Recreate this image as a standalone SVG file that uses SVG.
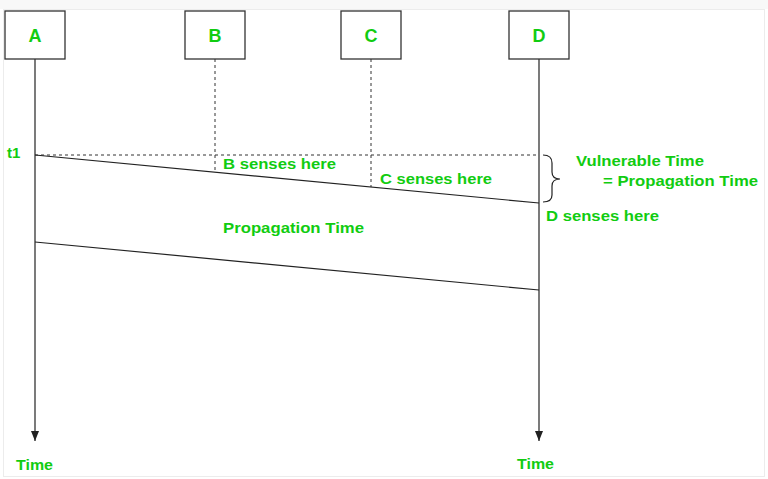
<svg xmlns="http://www.w3.org/2000/svg" width="768" height="479" viewBox="0 0 768 479">
<defs>
<style>
.box{fill:#fff;stroke:#333;stroke-width:1.3}
.lbl{font-family:"Liberation Sans",Arial,sans-serif;font-weight:bold;fill:#11cc11}
.big{font-size:18px}
.t{font-size:15px}
.ln{stroke:#222;stroke-width:1.2;fill:none}
.dash{stroke:#333;stroke-width:1;stroke-dasharray:3,3;fill:none}
</style>
<marker id="arr" markerWidth="10" markerHeight="8" refX="10" refY="4" orient="auto" markerUnits="userSpaceOnUse" viewBox="0 0 10 8">
<path d="M0,0 L10,4 L0,8 Z" fill="#222"/>
</marker>
</defs>
<rect x="0" y="0" width="768" height="479" fill="#fff"/>
<rect x="0" y="0" width="768" height="9" fill="#f8f8f8"/>
<rect x="3.5" y="9.5" width="761" height="467" fill="none" stroke="#ececec" stroke-width="1"/>
<g id="connectors">
<line class="ln" x1="35" y1="59" x2="35" y2="441" marker-end="url(#arr)"/>
<line class="ln" x1="539" y1="59" x2="539" y2="441" marker-end="url(#arr)"/>
<line class="dash" x1="215" y1="59" x2="215" y2="172"/>
<line class="dash" x1="371" y1="59" x2="371" y2="187"/>
<line class="dash" x1="35" y1="155" x2="539" y2="155"/>
<line class="ln" x1="35" y1="155" x2="539" y2="203"/>
<line class="ln" x1="35" y1="242" x2="539" y2="290"/>
<path class="ln" d="M543,155 Q552,155 552,163 L552,172 Q552,179 560,179 Q552,179 552,186 L552,195 Q552,202 543,202"/>
</g>
<g id="node-A"><rect class="box" x="5" y="11" width="60" height="48"/><text class="lbl big" x="35" y="42" text-anchor="middle">A</text></g>
<g id="node-B"><rect class="box" x="185" y="11" width="60" height="48"/><text class="lbl big" x="215" y="42" text-anchor="middle">B</text></g>
<g id="node-C"><rect class="box" x="341" y="11" width="60" height="48"/><text class="lbl big" x="371" y="42" text-anchor="middle">C</text></g>
<g id="node-D"><rect class="box" x="509" y="11" width="60" height="48"/><text class="lbl big" x="539" y="42" text-anchor="middle">D</text></g>
<g id="labels">
<text class="lbl t" x="7" y="158">t1</text>
<text class="lbl t" x="223" y="169" textLength="113" lengthAdjust="spacingAndGlyphs">B senses here</text>
<text class="lbl t" x="380" y="184" textLength="112" lengthAdjust="spacingAndGlyphs">C senses here</text>
<text class="lbl t" x="546" y="221" textLength="113" lengthAdjust="spacingAndGlyphs">D senses here</text>
<text class="lbl t" x="576" y="166" textLength="128" lengthAdjust="spacingAndGlyphs">Vulnerable Time</text>
<text class="lbl t" x="603" y="186" textLength="155" lengthAdjust="spacingAndGlyphs">= Propagation Time</text>
<text class="lbl t" x="223" y="233" textLength="141" lengthAdjust="spacingAndGlyphs">Propagation Time</text>
<text class="lbl t" x="16" y="470" textLength="37" lengthAdjust="spacingAndGlyphs">Time</text>
<text class="lbl t" x="517" y="469" textLength="37" lengthAdjust="spacingAndGlyphs">Time</text>
</g>
</svg>
